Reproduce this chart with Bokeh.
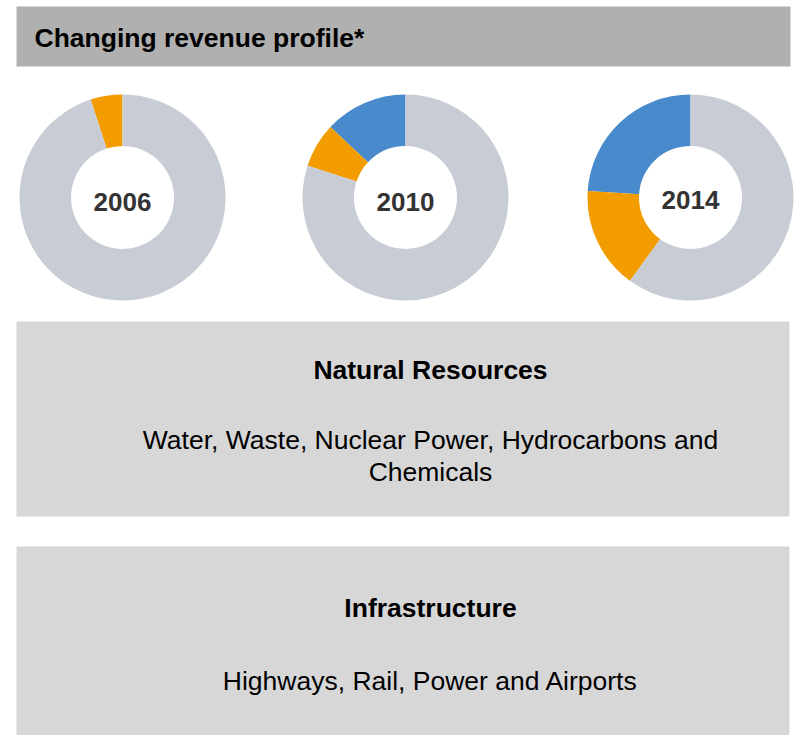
import math
from bokeh.plotting import figure
from bokeh.models import Range1d, ColumnDataSource
from bokeh.core.properties import value
from bokeh.embed import file_html
from bokeh.resources import INLINE

# ---------------- data ----------------
years = ["2006", "2010", "2014"]
blue_share = [0, 13, 24]      # blue segment (%)
orange_share = [5, 7, 16]     # orange segment (%)
grey_share = [95, 80, 60]     # grey remainder (%)

title_text = "Changing revenue profile*"
panel_titles = ["Natural Resources", "Infrastructure"]
panel_lines = [
    ["Water, Waste, Nuclear Power, Hydrocarbons and", "Chemicals"],
    ["Highways, Rail, Power and Airports"],
]

# ---------------- layout / style ----------------
W, H = 798, 735
def Y(sy):
    return H - sy

FONT = value("Liberation Sans")
COL_BLUE = "#488acb"
COL_ORANGE = "#f29c00"
COL_GREY = "#c8ccd4"
donut_cx = [122, 405, 690]
donut_cy = 197
r_out, r_in = 103, 51.5
label_y = [201, 201, 199]

p = figure(width=W, height=H, x_range=Range1d(0, W), y_range=Range1d(0, H),
           output_backend="svg", toolbar_location=None, min_border=0,
           x_axis_location=None, y_axis_location=None)
p.outline_line_color = None
p.xgrid.visible = False
p.ygrid.visible = False
p.background_fill_color = "white"
p.border_fill_color = "white"

# header bar
p.quad(left=[16], right=[790], top=[Y(6)], bottom=[Y(66)], fill_color="#b0b0b0", line_color=None)
p.text(x=[34], y=[Y(37)], text=[title_text], text_font=FONT, text_font_size="26.5px",
       text_font_style="bold", text_color="#000000", text_align="left", text_baseline="middle")

# donuts
wx, wy, ws, we, wc = [], [], [], [], []
for i, yr in enumerate(years):
    start = math.pi / 2
    for share, col in ((blue_share[i], COL_BLUE), (orange_share[i], COL_ORANGE), (grey_share[i], COL_GREY)):
        if share <= 0:
            continue
        end = start + 2 * math.pi * share / 100.0
        wx.append(donut_cx[i]); wy.append(Y(donut_cy)); ws.append(start); we.append(end); wc.append(col)
        start = end
src = ColumnDataSource(dict(x=wx, y=wy, start=ws, end=we, color=wc))
p.annular_wedge(x="x", y="y", inner_radius=r_in, outer_radius=r_out, start_angle="start",
                end_angle="end", fill_color="color", line_color=None, source=src)

p.text(x=donut_cx, y=[Y(v) for v in label_y], text=years, text_font=FONT, text_font_size="26px",
       text_font_style="bold", text_color="#333333", text_align="center", text_baseline="middle")

# panels
p.quad(left=[16, 16], right=[789, 789], top=[Y(321), Y(546)], bottom=[Y(516), Y(740)],
       fill_color="#d7d7d7", line_color=None)

text_cx = 430
title_y = [369, 607]
line_y = [[439, 471], [680]]
for k in range(2):
    p.text(x=[text_cx], y=[Y(title_y[k])], text=[panel_titles[k]], text_font=FONT,
           text_font_size="26.5px", text_font_style="bold", text_color="#000000",
           text_align="center", text_baseline="middle")
    p.text(x=[text_cx] * len(panel_lines[k]), y=[Y(v) for v in line_y[k]], text=panel_lines[k],
           text_font=FONT, text_font_size="26.5px", text_color="#000000",
           text_align="center", text_baseline="middle")

open("out.html", "w").write(file_html(p, INLINE))
